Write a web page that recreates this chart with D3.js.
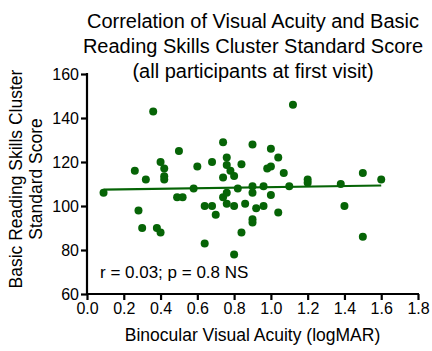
<!DOCTYPE html>
<html>
<head>
<meta charset="utf-8">
<script src="https://cdn.jsdelivr.net/npm/d3@7"></script>
<style>
  body { margin: 0; background: #fff; }
  svg { display: block; font-family: "Liberation Sans", Arial, Helvetica, sans-serif; }
  .axis path, .axis line { stroke: #000; stroke-width: 2.2px; }
  .axis text { font-size: 16px; fill: #000; }
</style>
</head>
<body>
<div id="chart"></div>
<script>
// logMAR acuity (x) and reading cluster score (y)
const acuity = [0.09, 0.26, 0.28, 0.30, 0.32, 0.36, 0.38, 0.40, 0.40, 0.42, 0.42, 0.42,
  0.49, 0.52, 0.50, 0.58, 0.60, 0.64, 0.64, 0.68, 0.68, 0.70, 0.74, 0.74, 0.74,
  0.76, 0.76, 0.76, 0.76, 0.78, 0.80, 0.80, 0.80, 0.82, 0.84, 0.84, 0.86,
  0.90, 0.90, 0.90, 0.90, 0.90, 0.92, 0.96, 0.96, 0.98, 1.00, 1.00, 1.00,
  1.04, 1.04, 1.07, 1.10, 1.12, 1.20, 1.20, 1.38, 1.40, 1.50, 1.50, 1.60];
const score = [106, 116, 98, 90, 112, 143, 90, 88, 120, 117, 113.5, 112,
  104, 104, 125, 108, 118, 100, 83, 120, 100, 96, 129, 113, 104,
  122, 118.6, 106, 101, 116, 113.6, 100, 78, 108, 119, 88, 101,
  128, 109, 106, 94, 92.5, 99, 109, 100, 117, 126, 118, 105,
  122, 97, 115, 109, 146, 112, 110.6, 110, 100, 115, 86, 112];

// linear fit
const fitSlope = 1.26;
const fitIntercept = 107.3;

const xTicks = [0.0, 0.2, 0.4, 0.6, 0.8, 1.0, 1.2, 1.4, 1.6, 1.8];
const yTicks = [60, 80, 100, 120, 140, 160];
const titleLines = ["Correlation of Visual Acuity and Basic",
  "Reading Skills Cluster Standard Score",
  "(all participants at first visit)"];
const yTitleLines = ["Basic Reading Skills Cluster", "Standard Score"];
const xTitle = "Binocular Visual Acuity (logMAR)";
const statText = "r = 0.03; p = 0.8 NS";

const width = 432, height = 351;
const margin = { top: 74, right: 14, bottom: 57, left: 87 };
const green = "#066406";

const svg = d3.select("#chart").append("svg")
  .attr("width", width)
  .attr("height", height);

const x = d3.scaleLinear().domain([0, 1.8]).range([margin.left, width - margin.right]);
const y = d3.scaleLinear().domain([60, 160]).range([height - margin.bottom, margin.top]);

svg.append("g")
  .attr("class", "axis")
  .attr("transform", `translate(0,${height - margin.bottom})`)
  .call(d3.axisBottom(x).tickValues(xTicks).tickFormat(d3.format(".1f")).tickSize(6).tickPadding(3).tickSizeOuter(0))
  .call(g => g.select(".domain").attr("d", `M${margin.left - 1},0H${width - margin.right + 1}`));

svg.append("g")
  .attr("class", "axis")
  .attr("transform", `translate(${margin.left},0)`)
  .call(d3.axisLeft(y).tickValues(yTicks).tickSize(6).tickPadding(2).tickSizeOuter(0))
  .call(g => g.select(".domain").attr("d", `M0,${margin.top - 1}V${height - margin.bottom + 1}`));

// fit line across the data range
const xr = d3.extent(acuity);
svg.append("line")
  .attr("x1", x(xr[0])).attr("y1", y(fitIntercept + fitSlope * xr[0]))
  .attr("x2", x(xr[1])).attr("y2", y(fitIntercept + fitSlope * xr[1]))
  .attr("stroke", green)
  .attr("stroke-width", 2.2);

svg.append("g").selectAll("circle")
  .data(acuity.map((a, i) => [a, score[i]]))
  .enter()
  .append("circle")
  .attr("cx", d => x(d[0]))
  .attr("cy", d => y(d[1]))
  .attr("r", 4)
  .attr("fill", green);

svg.append("g").selectAll("text")
  .data(titleLines)
  .enter()
  .append("text")
  .attr("x", 253)
  .attr("y", (d, i) => 28 + i * 25)
  .attr("text-anchor", "middle")
  .attr("font-size", 20)
  .text(d => d);

svg.append("g").selectAll("text")
  .data(yTitleLines)
  .enter()
  .append("text")
  .attr("transform", (d, i) => `translate(${22 + i * 20},179) rotate(-90)`)
  .attr("text-anchor", "middle")
  .attr("font-size", 17.5)
  .text(d => d);

svg.append("text")
  .attr("x", (margin.left + width - margin.right) / 2)
  .attr("y", 341)
  .attr("text-anchor", "middle")
  .attr("font-size", 17.5)
  .text(xTitle);

svg.append("text")
  .attr("x", 100)
  .attr("y", 278)
  .attr("font-size", 17)
  .text(statText);
</script>
</body>
</html>
